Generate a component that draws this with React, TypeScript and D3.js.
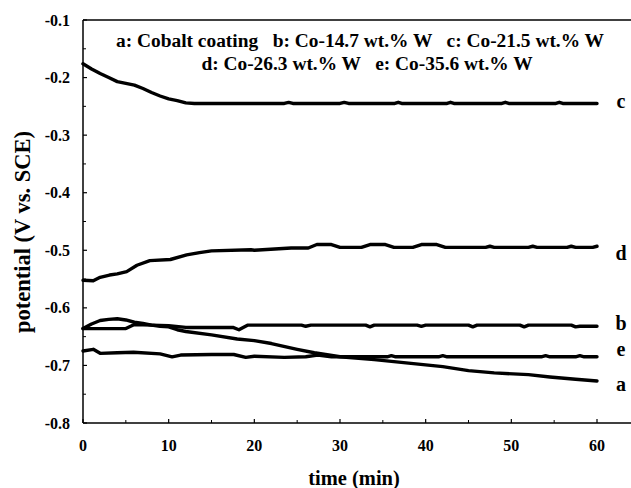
import React from "react";
import * as d3 from "d3";

const xTicks = [0, 10, 20, 30, 40, 50, 60];
const yTicks = [-0.1, -0.2, -0.3, -0.4, -0.5, -0.6, -0.7, -0.8];
const legendLine1 = "a: Cobalt coating   b: Co-14.7 wt.% W   c: Co-21.5 wt.% W";
const legendLine2 = "d: Co-26.3 wt.% W   e: Co-35.6 wt.% W";

const seriesA: [number, number][] = [
  [0, -0.636], [1, -0.628], [2, -0.622], [3, -0.620], [4, -0.619], [5, -0.621],
  [6, -0.625], [7, -0.627], [8, -0.630], [9, -0.632], [10, -0.633], [11, -0.638],
  [12, -0.641], [15, -0.647], [18, -0.654], [20, -0.657], [22, -0.662], [25, -0.672],
  [27, -0.678], [30, -0.685], [34, -0.690], [38, -0.696], [42, -0.702], [45, -0.709],
  [48, -0.713], [52, -0.716], [54.5, -0.720], [57.5, -0.724], [60, -0.727],
];
const seriesB: [number, number][] = [
  [0, -0.636], [5, -0.636], [6, -0.629], [8, -0.630], [10, -0.631], [12, -0.634],
  [17.5, -0.634], [18.2, -0.638], [19.2, -0.630], [25.5, -0.630], [26, -0.632],
  [26.6, -0.630], [33, -0.630], [33.5, -0.633], [34, -0.630], [39, -0.630],
  [39.5, -0.632], [40, -0.630], [45, -0.630], [45.5, -0.633], [46, -0.630],
  [51, -0.630], [51.5, -0.633], [52, -0.630], [57, -0.630], [57.5, -0.633],
  [58, -0.632], [60, -0.632],
];
const seriesC: [number, number][] = [
  [0, -0.176], [1, -0.185], [2, -0.193], [3, -0.200], [4, -0.207], [5, -0.210],
  [6, -0.213], [7, -0.219], [8, -0.226], [9, -0.232], [10, -0.237], [11, -0.240],
  [12, -0.244], [13, -0.245], [23.5, -0.245], [24, -0.243], [24.5, -0.245],
  [30, -0.245], [30.5, -0.243], [31, -0.245], [36.4, -0.245], [36.8, -0.243],
  [37.2, -0.245], [42.5, -0.245], [42.9, -0.243], [43.3, -0.245], [48.9, -0.245],
  [49.3, -0.243], [49.7, -0.245], [55.2, -0.245], [55.6, -0.243], [56, -0.245],
  [60, -0.245],
];
const seriesD: [number, number][] = [
  [0, -0.552], [1.2, -0.553], [2, -0.547], [3.1, -0.543], [4, -0.541], [5.1, -0.537],
  [6.3, -0.526], [7.8, -0.518], [10.2, -0.516], [12.1, -0.508], [13.6, -0.504],
  [15, -0.501], [19.6, -0.499], [20, -0.500], [24.3, -0.496], [26.3, -0.496],
  [27.3, -0.490], [29, -0.490], [30, -0.495], [32.5, -0.495], [33.5, -0.490],
  [35.3, -0.490], [36.3, -0.495], [38.5, -0.495], [39.5, -0.490], [41.3, -0.490],
  [42.3, -0.495], [47, -0.495], [47.5, -0.493], [48, -0.495], [52, -0.495],
  [52.5, -0.493], [53, -0.495], [56.5, -0.495], [57, -0.493], [57.5, -0.495],
  [59.5, -0.495], [60, -0.493],
];
const seriesE: [number, number][] = [
  [0, -0.675], [1.2, -0.672], [2, -0.679], [4, -0.678], [5.9, -0.677], [9, -0.680],
  [10.4, -0.685], [11.4, -0.682], [15, -0.681], [17.6, -0.681], [19, -0.686],
  [20, -0.684], [23.5, -0.686], [26, -0.685], [27.4, -0.682], [29, -0.685],
  [35.5, -0.685], [36, -0.683], [36.5, -0.685], [41.5, -0.685], [42, -0.683],
  [42.5, -0.685], [53.5, -0.685], [54, -0.683], [54.5, -0.685], [57.5, -0.685],
  [58, -0.683], [58.5, -0.685], [60, -0.685],
];

const curveNames = ["c", "d", "b", "e", "a"];
const curveData = [seriesC, seriesD, seriesB, seriesE, seriesA];
const labelValues = [-0.253, -0.517, -0.638, -0.683, -0.745];

export default function App() {
  const W = 631, H = 488;
  const left = 83, top = 20, bottom = 423, rightEdge = 631;
  const x = d3.scaleLinear().domain([0, 60]).range([left, 597]);
  const y = d3.scaleLinear().domain([-0.8, -0.1]).range([bottom, top]);
  const line = d3.line<[number, number]>().x(d => x(d[0])).y(d => y(d[1]));

  const xMinor = d3.range(5, 65, 10);
  const yMinor = d3.range(-0.75, -0.1, 0.1);
  const T = (props: any) => (
    <text fontWeight="bold" {...props} style={{ fontFamily: '"Liberation Serif"', whiteSpace: "pre" }} />
  );

  return (
    <svg width={W} height={H} style={{ position: "absolute", left: 0, top: 0, background: "#fff" }}>
      <rect x={0} y={0} width={W} height={H} fill="#fff" />
      <line x1={left} y1={top} x2={rightEdge} y2={top} stroke="#000" strokeWidth={1.5} />
      <line x1={left} y1={top} x2={left} y2={bottom} stroke="#000" strokeWidth={1.5} />
      <line x1={left} y1={bottom} x2={rightEdge} y2={bottom} stroke="#000" strokeWidth={1.5} />
      {xTicks.map(t => (
        <g key={"xt" + t}>
          <line x1={x(t)} x2={x(t)} y1={bottom} y2={bottom - 4} stroke="#000" strokeWidth={1.2} />
          <T x={x(t)} y={451} textAnchor="middle" fontSize={16}>{String(t)}</T>
        </g>
      ))}
      {xMinor.map(t => (
        <line key={"xm" + t} x1={x(t)} x2={x(t)} y1={bottom} y2={bottom - 3} stroke="#000" strokeWidth={1} />
      ))}
      {yTicks.map(v => (
        <g key={"yt" + v}>
          <line x1={left} x2={left + 4} y1={y(v)} y2={y(v)} stroke="#000" strokeWidth={1.2} />
          <T x={70} y={y(v) + 5.5} textAnchor="end" fontSize={16}>{v.toFixed(1)}</T>
        </g>
      ))}
      {yMinor.map(v => (
        <line key={"ym" + v} x1={left} x2={left + 3} y1={y(v)} y2={y(v)} stroke="#000" strokeWidth={1} />
      ))}
      {curveData.map((d, i) => (
        <path key={curveNames[i]} d={line(d) || ""} fill="none" stroke="#000" strokeWidth={3.4}
          strokeLinejoin="round" strokeLinecap="round" />
      ))}
      {curveNames.map((n, i) => (
        <T key={"lb" + n} x={621} y={y(labelValues[i])} textAnchor="middle" fontSize={20}>{n}</T>
      ))}
      <T x={360} y={47} textAnchor="middle" fontSize={19.4}>{legendLine1}</T>
      <T x={367} y={70} textAnchor="middle" fontSize={19.4}>{legendLine2}</T>
      <T x={354} y={485} textAnchor="middle" fontSize={20.5}>time (min)</T>
      <T transform="translate(30,232) rotate(-90)" textAnchor="middle" fontSize={22.5}>potential (V vs. SCE)</T>
    </svg>
  );
}
